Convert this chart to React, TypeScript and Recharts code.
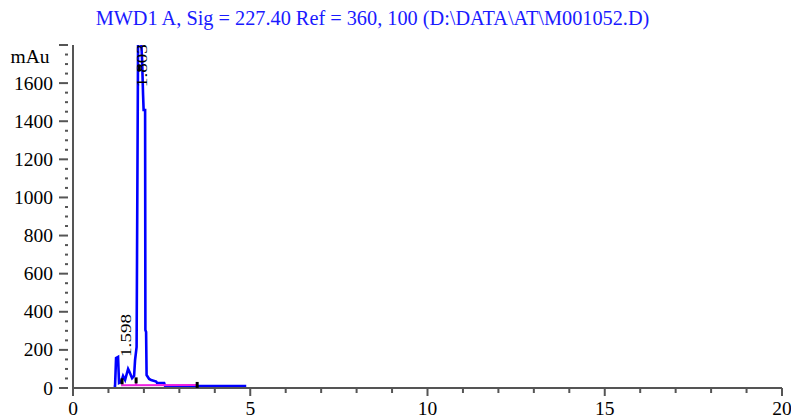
import React from "react";
import { ComposedChart, Line, Scatter, XAxis, YAxis } from "recharts";

// Signal trace (time in min, absorbance in mAu)
const traceTimes = [1.158, 1.186, 1.215, 1.271, 1.299, 1.356, 1.412, 1.469, 1.554, 1.582, 1.667, 1.723, 1.751, 1.794, 1.836, 1.921, 1.949, 1.977, 1.992, 2.034, 2.042, 2.062, 2.076, 2.147, 2.203, 2.345, 2.373, 2.571, 2.599, 4.887];
const traceValues = [5, 10, 157, 163, 26, 31, 63, 42, 100, 89, 52, 63, 147, 215, 1830, 1830, 1721, 1537, 1459, 1459, 304, 294, 68, 47, 42, 34, 26, 26, 10, 10];

// Integration baseline (magenta)
const baseTimes = [1.356, 3.503];
const baseValues = [14, 16];
const dropTimes = [1.78, 1.78];
const dropValues = [14, 42];

// Integration event marks (black)
const markTimes = [1.384, 1.78, 1.87, 3.503];
const markValues = [35, 40, 1680, 16];

// Peak retention-time labels
const labelTimes = [1.638, 2.09];
const labelValues = [163, 1579];
const labelTexts = ["1.598", "1.803"];

// Axes
const xTicks = [0, 1, 2, 3, 4, 5, 6, 7, 8, 9, 10, 11, 12, 13, 14, 15, 16, 17, 18, 19, 20];
const xLabels = [0, 5, 10, 15, 20];
const yTicks = [0, 50, 100, 150, 200, 250, 300, 350, 400, 450, 500, 550, 600, 650, 700, 750, 800, 850, 900, 950, 1000, 1050, 1100, 1150, 1200, 1250, 1300, 1350, 1400, 1450, 1500, 1550, 1600, 1650, 1700, 1750, 1800];
const yMajor = [0, 200, 400, 600, 800, 1000, 1200, 1400, 1600, 1800];
const yLabels = [0, 200, 400, 600, 800, 1000, 1200, 1400, 1600];

const title = "MWD1 A, Sig = 227.40 Ref = 360, 100 (D:\\DATA\\AT\\M001052.D)";
const yUnit = "mAu";

const trace = traceTimes.map((t, i) => ({ t, v: traceValues[i] }));
const base = baseTimes.map((t, i) => ({ t, v: baseValues[i] }));
const drop = dropTimes.map((t, i) => ({ t, v: dropValues[i] }));
const marks = markTimes.map((t, i) => ({ t, v: markValues[i] }));
const labels = labelTimes.map((t, i) => ({ t, v: labelValues[i], text: labelTexts[i] }));

const FONT = "'Liberation Serif', 'Times New Roman', serif";
const AXIS = "#555";

const YTick = (props: any) => {
  const { x, y, payload } = props;
  const v = payload.value;
  const major = yMajor.includes(v);
  return (
    <g>
      <line x1={major ? x - 14 : x - 8} x2={x - 5} y1={y} y2={y} stroke={AXIS} strokeWidth={2} />
      {yLabels.includes(v) && (
        <text x={x - 20} y={y + 6.5} textAnchor="end" fontFamily={FONT} fontSize={19.5} fill="#000">
          {v}
        </text>
      )}
    </g>
  );
};

const XTick = (props: any) => {
  const { x, y, payload } = props;
  const v = payload.value;
  const major = xLabels.includes(v);
  return (
    <g>
      <line x1={x} x2={x} y1={y} y2={y + (major ? 8 : 5)} stroke={AXIS} strokeWidth={2} />
      {major && (
        <text x={x} y={y + 27} textAnchor="middle" fontFamily={FONT} fontSize={19.5} fill="#000">
          {v}
        </text>
      )}
    </g>
  );
};

const MarkShape = (props: any) => {
  const { cx, cy } = props;
  return <rect x={cx - 1.5} y={cy - 3} width={3} height={6} fill="#000" />;
};

const LabelShape = (props: any) => {
  const { cx, cy, payload } = props;
  return (
    <text
      x={cx}
      y={cy}
      transform={`rotate(-90 ${cx} ${cy})`}
      fontFamily={FONT}
      fontSize={15}
      textLength={43}
      lengthAdjust="spacingAndGlyphs"
      fill="#000"
    >
      {payload.text}
    </text>
  );
};

export default function App() {
  return (
    <div style={{ position: "absolute", left: 0, top: 0, width: 791, height: 419, background: "#fff" }}>
      <ComposedChart width={791} height={419} margin={{ top: 45, right: 9, bottom: 0, left: 0 }}>
        <XAxis
          type="number"
          dataKey="t"
          domain={[0, 20]}
          ticks={xTicks}
          interval={0}
          allowDataOverflow
          height={31}
          tickSize={0}
          tickMargin={0}
          tickLine={false}
          axisLine={{ stroke: AXIS, strokeWidth: 2 }}
          tick={<XTick />}
        />
        <YAxis
          type="number"
          dataKey="v"
          domain={[0, 1800]}
          ticks={yTicks}
          interval={0}
          allowDataOverflow
          width={73}
          tickSize={0}
          tickMargin={0}
          tickLine={false}
          axisLine={{ stroke: AXIS, strokeWidth: 2 }}
          tick={<YTick />}
        />
        <Line data={trace} dataKey="v" type="linear" stroke="#0000ff" strokeWidth={2.6} dot={false} isAnimationActive={false} />
        <Line data={base} dataKey="v" type="linear" stroke="#f020e0" strokeWidth={2} dot={false} isAnimationActive={false} />
        <Line data={drop} dataKey="v" type="linear" stroke="#f020e0" strokeWidth={2} dot={false} isAnimationActive={false} />
        <Scatter data={marks} dataKey="v" shape={<MarkShape />} isAnimationActive={false} />
        <Scatter data={labels} dataKey="v" shape={<LabelShape />} isAnimationActive={false} />
      </ComposedChart>
      <svg width={791} height={419} style={{ position: "absolute", left: 0, top: 0, pointerEvents: "none" }}>
        <text x={372.5} y={25} textAnchor="middle" fontFamily={FONT} fontSize={20.3} fill="#1a1aff">
          {title}
        </text>
        <text x={30} y={63} textAnchor="middle" fontFamily={FONT} fontSize={19.5} fill="#000">
          {yUnit}
        </text>
      </svg>
    </div>
  );
}
